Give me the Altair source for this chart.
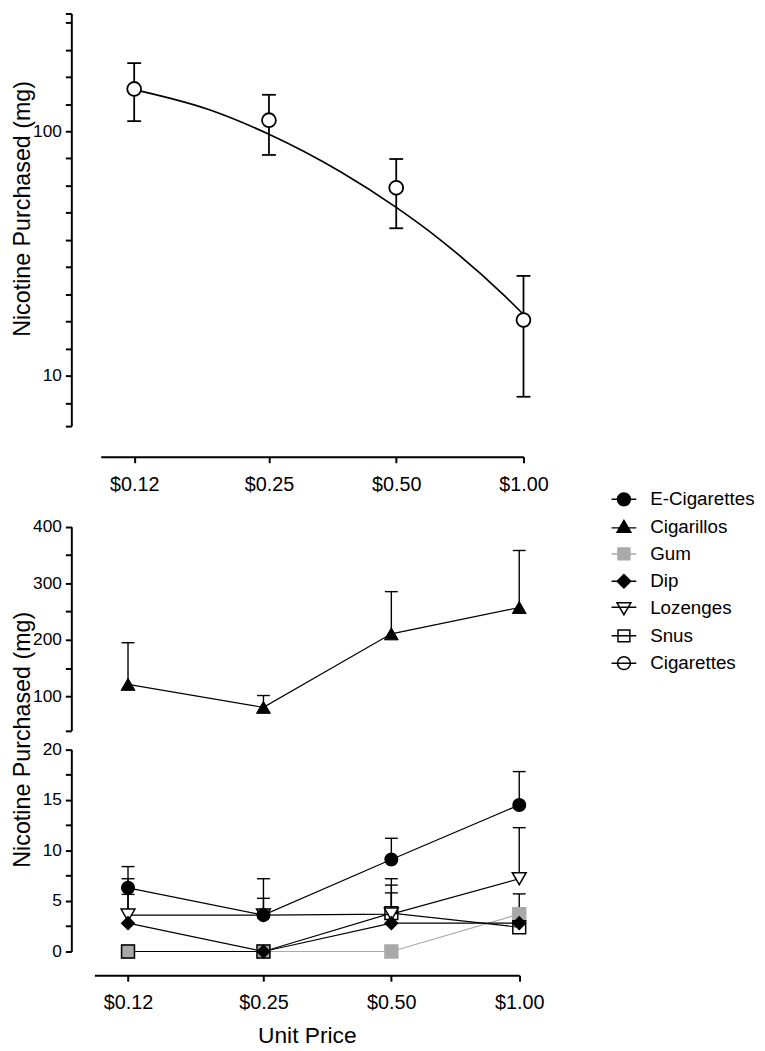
import altair as alt
import pandas as pd

FONT = "Liberation Sans"

# ---------------- data ----------------
prices = [0.12, 0.25, 0.50, 1.00]
price_ticks = [0.12, 0.25, 0.50, 1.00]

# Cigarettes (top panel, log axis)
cig_mean = [149.0, 111.0, 58.7, 16.9]
cig_upper = [190.0, 141.0, 77.0, 25.6]
cig_lower = [110.0, 80.0, 40.1, 8.2]

# fitted demand curve
curve_price = [0.12, 0.18, 0.25, 0.37, 0.50, 0.63, 0.90, 1.00]
curve_value = [148.0, 122.7, 97.2, 68.1, 48.8, 36.4, 21.3, 17.8]

# Cigarillos (upper segment of bottom panel)
cigarillos_mean = [121.5, 80.8, 210.7, 257.3]
cigarillos_upper = [195.0, 101.7, 285.3, 358.0]

# other products (lower segment of bottom panel)
ecig_mean = [6.3, 3.6, 9.1, 14.5]
ecig_upper = [8.4, 7.2, 11.2, 17.8]
gum_mean = [0.0, 0.0, 0.0, 3.7]
gum_upper = [None, None, None, None]
dip_mean = [2.8, 0.0, 2.8, 2.8]
dip_upper = [5.65, None, 5.8, None]
loz_mean = [3.6, 3.6, 3.7, 7.2]
loz_upper = [7.2, 5.26, 7.2, 12.25]
snus_mean = [0.0, 0.0, 3.8, 2.4]
snus_upper = [None, None, 6.57, 5.7]

series_names = ["E-Cigarettes", "Cigarillos", "Gum", "Dip", "Lozenges", "Snus", "Cigarettes"]

# axis tick values
top_tick_values = [6.22, 7.7426, 10, 12.9155, 16.681, 21.544, 27.826, 35.938,
                   46.416, 59.948, 77.426, 100, 129.155, 166.81, 215.44, 278.26, 303.2]
mid_tick_values = [40, 100, 150, 200, 250, 300, 350, 400]
low_tick_values = [0, 2.5, 5, 7.5, 10, 12.5, 15, 17.5, 20]

# ---------------- scales ----------------
top_x = alt.Scale(type="log", domain=[0.1, 1.0], range=[29.7, 457], nice=False)
bot_x = alt.Scale(type="log", domain=[0.1, 1.0], range=[23.3, 452.7], nice=False)
top_y = alt.Scale(type="log", domain=[6.22, 303.2], range=[417, 0], nice=False)
mid_y = alt.Scale(domain=[40, 400], range=[724.6, 518.7], nice=False, zero=False)
low_y = alt.Scale(domain=[0, 20], range=[948, 743.7], nice=False, zero=False)

AX = dict(domainColor="black", domainWidth=2, tickColor="black", tickWidth=2,
          tickSize=6, labelColor="black", labelFont=FONT, titleFont=FONT,
          titleColor="black", titleFontWeight="normal", grid=False,
          labelFlush=False, labelOverlap=False)

price_label = "'$' + format(datum.value, '.2f')"
YT = dict(titleFontSize=23.5, titleX=-42.5, titleBaseline="alphabetic", titleAngle=270)

top_x_axis = alt.Axis(orient="bottom", values=price_ticks, labelExpr=price_label,
                      title=None, offset=-524, labelFontSize=20, labelPadding=12, **AX)
bot_x_axis = alt.Axis(orient="bottom", values=price_ticks, labelExpr=price_label,
                      title="Unit Price", titleFontSize=23, titlePadding=12,
                      labelFontSize=20, labelPadding=12, **AX)
top_y_axis = alt.Axis(orient="left", values=top_tick_values,
                      labelExpr="datum.value == 10 || datum.value == 100 ? datum.value : ''",
                      title="Nicotine Purchased (mg)", titleY=197,
                      labelFontSize=17.5, labelPadding=4, **YT, **AX)
mid_y_axis = alt.Axis(orient="left", values=mid_tick_values,
                      labelExpr="datum.value % 100 == 0 ? datum.value : ''",
                      title="Nicotine Purchased (mg)", titleY=733.5,
                      labelFontSize=17.5, labelPadding=4, **YT, **AX)
low_y_axis = alt.Axis(orient="left", values=low_tick_values,
                      labelExpr="datum.value % 5 == 0 ? datum.value : ''",
                      title=None, labelFontSize=17.5, labelPadding=4, **AX)

ERR_W = 1.8
CAP = 7

# ---------------- top panel: cigarettes ----------------
top_df = pd.DataFrame({"price": prices, "mean": cig_mean, "lo": cig_lower, "hi": cig_upper})
curve_df = pd.DataFrame({"price": curve_price, "value": curve_value})

tx = alt.X("price:Q", scale=top_x, axis=top_x_axis)
curve = alt.Chart(curve_df).mark_line(color="black", strokeWidth=1.7, interpolate="monotone").encode(
    x=tx, y=alt.Y("value:Q", scale=top_y, axis=top_y_axis))
top_stem = alt.Chart(top_df).mark_rule(color="black", strokeWidth=ERR_W).encode(
    x=tx, y=alt.Y("lo:Q", scale=top_y, axis=top_y_axis), y2="hi:Q")
top_cap_hi = alt.Chart(top_df).mark_rule(color="black", strokeWidth=ERR_W, xOffset=-CAP, x2Offset=CAP).encode(
    x=tx, x2="price:Q", y=alt.Y("hi:Q", scale=top_y, axis=top_y_axis))
top_cap_lo = alt.Chart(top_df).mark_rule(color="black", strokeWidth=ERR_W, xOffset=-CAP, x2Offset=CAP).encode(
    x=tx, x2="price:Q", y=alt.Y("lo:Q", scale=top_y, axis=top_y_axis))
top_pts = alt.Chart(top_df).mark_point(shape="circle", size=196, filled=True, fill="white",
                                       stroke="black", strokeWidth=1.8, opacity=1).encode(
    x=tx, y=alt.Y("mean:Q", scale=top_y, axis=top_y_axis))
top_group = alt.layer(curve, top_stem, top_cap_hi, top_cap_lo, top_pts)

# ---------------- middle segment: cigarillos ----------------
mid_df = pd.DataFrame({"price": prices, "mean": cigarillos_mean, "hi": cigarillos_upper})
mx = alt.X("price:Q", scale=bot_x, axis=None)
mid_line = alt.Chart(mid_df).mark_line(color="black", strokeWidth=1.2).encode(
    x=mx, y=alt.Y("mean:Q", scale=mid_y, axis=mid_y_axis))
mid_stem = alt.Chart(mid_df).mark_rule(color="black", strokeWidth=1.4).encode(
    x=mx, y=alt.Y("mean:Q", scale=mid_y, axis=mid_y_axis), y2="hi:Q")
mid_cap = alt.Chart(mid_df).mark_rule(color="black", strokeWidth=1.4, xOffset=-6.5, x2Offset=6.5).encode(
    x=mx, x2="price:Q", y=alt.Y("hi:Q", scale=mid_y, axis=mid_y_axis))
mid_pts = alt.Chart(mid_df).mark_point(shape="triangle-up", size=196, filled=True, fill="black",
                                       stroke="black", strokeWidth=1, opacity=1).encode(
    x=mx, y=alt.Y("mean:Q", scale=mid_y, axis=mid_y_axis))
mid_group = alt.layer(mid_line, mid_stem, mid_cap, mid_pts)

# ---------------- lower segment: other products ----------------
GRAY = "#a9a9a9"
low_series = [
    ("Gum", gum_mean, gum_upper, "square", 169, GRAY, GRAY, GRAY),
    ("Snus", snus_mean, snus_upper, "square", 169, "transparent", "black", "black"),
    ("Lozenges", loz_mean, loz_upper, "triangle-down", 196, "white", "black", "black"),
    ("Dip", dip_mean, dip_upper, "diamond", 161, "black", "black", "black"),
    ("E-Cigarettes", ecig_mean, ecig_upper, "circle", 161, "black", "black", "black"),
]
bx = alt.X("price:Q", scale=bot_x, axis=bot_x_axis)
lines, bars, pts = [], [], []
for name, mean, upper, shape, size, fill, stroke, lcol in low_series:
    d = pd.DataFrame({"price": prices, "mean": mean, "hi": upper})
    lines.append(alt.Chart(d).mark_line(color=lcol, strokeWidth=1.2).encode(
        x=bx, y=alt.Y("mean:Q", scale=low_y, axis=low_y_axis)))
    e = d.dropna()
    if len(e):
        bars.append(alt.Chart(e).mark_rule(color=stroke, strokeWidth=1.4).encode(
            x=bx, y=alt.Y("mean:Q", scale=low_y, axis=low_y_axis), y2="hi:Q"))
        bars.append(alt.Chart(e).mark_rule(color=stroke, strokeWidth=1.4, xOffset=-6.5, x2Offset=6.5).encode(
            x=bx, x2="price:Q", y=alt.Y("hi:Q", scale=low_y, axis=low_y_axis)))
    pts.append(alt.Chart(d).mark_point(shape=shape, size=size, filled=(fill != "transparent"),
                                       fill=fill, stroke=stroke, strokeWidth=1.5, opacity=1).encode(
        x=bx, y=alt.Y("mean:Q", scale=low_y, axis=low_y_axis)))
low_group = alt.layer(*lines, *bars, *pts)

# ---------------- legend ----------------
legend_shapes = [
    "M-1,0H1M-0.52,0A0.52,0.52,0,1,1,0.52,0A0.52,0.52,0,1,1,-0.52,0Z",
    "M-1,0.1H1M0,-0.5L0.56,0.46L-0.56,0.46Z",
    "M-1,0H1M-0.48,-0.48H0.48V0.48H-0.48Z",
    "M-1,0H1M0,-0.55L0.55,0L0,0.55L-0.55,0Z",
    "M-1,-0.1H1M-0.56,-0.46L0.56,-0.46L0,0.5Z",
    "M-1,0H1M-0.48,-0.48H0.48V0.48H-0.48Z",
    "M-1,0H1M-0.52,0A0.52,0.52,0,1,1,0.52,0A0.52,0.52,0,1,1,-0.52,0Z",
]
legend_fills = ["black", "black", GRAY, "black", "transparent", "transparent", "transparent"]
legend_strokes = ["black", "black", GRAY, "black", "black", "black", "black"]

leg = dict(title=None, orient="none", legendX=545, legendY=477.5)
legend_df = pd.DataFrame({"series": series_names})
legend_layer = alt.Chart(legend_df).mark_point(filled=True, opacity=1, strokeWidth=1.5).encode(
    shape=alt.Shape("series:N", scale=alt.Scale(domain=series_names, range=legend_shapes),
                    legend=alt.Legend(**leg)),
    fill=alt.Fill("series:N", scale=alt.Scale(domain=series_names, range=legend_fills),
                  legend=alt.Legend(**leg)),
    stroke=alt.Stroke("series:N", scale=alt.Scale(domain=series_names, range=legend_strokes),
                      legend=alt.Legend(**leg)),
).transform_filter("false")

chart = (
    alt.layer(top_group, mid_group, low_group, legend_layer)
    .resolve_scale(x="independent", y="independent", shape="independent",
                   fill="independent", stroke="independent")
    .resolve_axis(x="independent", y="independent")
    .properties(width=460, height=972,
                autosize=alt.AutoSizeParams(type="none"),
                padding={"left": 64, "top": 0, "right": 233, "bottom": 71})
    .configure_view(stroke=None)
    .configure_legend(labelFont=FONT, labelFontSize=19, labelColor="black",
                      symbolSize=625, symbolStrokeWidth=1.5, rowPadding=3.6,
                      labelOffset=13, padding=0, labelLimit=0)
)

chart.save("out.html", embed_options={"renderer": "svg", "actions": False})
